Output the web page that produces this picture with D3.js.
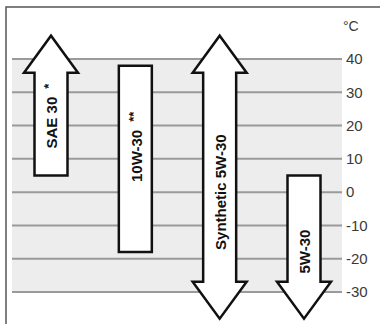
<!DOCTYPE html>
<html>
<head>
<meta charset="utf-8">
<script src="https://cdn.jsdelivr.net/npm/d3@7"></script>
<style>
  body { margin: 0; background: #fff; }
  svg { display: block; font-family: "Liberation Sans", Arial, sans-serif; }
</style>
</head>
<body>
<script>

// oil grades and their temperature ranges (°C); open ends get an arrow head
var grades   = ["SAE 30", "10W-30", "Synthetic 5W-30", "5W-30"]
var marks    = ["*", "**", "", ""]
var lows     = [5, -18, -38, -38]
var highs    = [47, 38, 47, 5]
var openLow  = [false, false, true, true]
var openHigh = [true, false, true, false]
var ticks    = [40, 30, 20, 10, 0, -10, -20, -30]

var svg = d3.select("body").append("svg")
  .attr('width', 380)
  .attr('height', 324)

var y = d3.scaleLinear().domain([-30, 40]).range([292, 59])
var x = d3.scalePoint().domain(grades).range([51, 304])

// frame (left + top only)
svg.append("path")
  .attr('d', "M6,324V7H380")
  .attr('fill', 'none')
  .attr('stroke', '#555')
  .attr('stroke-width', 1.5)

// grey band + grid
svg.append("rect")
  .attr('x', 12)
  .attr('y', y(40))
  .attr('width', 330)
  .attr('height', y(-30) - y(40))
  .attr('fill', '#ededed')

svg.selectAll("line.grid")
  .data(ticks)
  .enter().append("line")
  .attr('class', 'grid')
  .attr('x1', 12)
  .attr('x2', 342)
  .attr('y1', function(d) { return y(d) })
  .attr('y2', function(d) { return y(d) })
  .attr('stroke', '#9a9a9a')
  .attr('stroke-width', 2)

// plain hyphen for negatives, like the original print
var axis = d3.axisRight(y).tickValues(ticks).tickSize(0).tickPadding(0)
  .tickFormat(function(d) { return String(d) })
var ag = svg.append("g")
  .attr('transform', 'translate(346,0)')
  .call(axis)
ag.select(".domain").remove()
ag.selectAll("text")
  .attr('font-size', 15)
  .attr('font-family', '"Liberation Sans", Arial, sans-serif')
  .attr('fill', '#3a3a3a')

svg.append("text")
  .attr('x', 343)
  .attr('y', 31)
  .attr('font-size', 14)
  .attr('fill', '#3a3a3a')
  .text("°C")

// arrows / bars
var shaft = 16.5, head = 27, headLen = 37

function arrowPath(i) {
  var cx = x(grades[i])
  var top = y(highs[i]), bot = y(lows[i])
  var p = ""
  if (openHigh[i]) {
    p += "M" + (cx - shaft) + "," + (top + headLen)
    p += "H" + (cx - head) + "L" + cx + "," + top
    p += "L" + (cx + head) + "," + (top + headLen) + "H" + (cx + shaft)
  } else {
    p += "M" + (cx - shaft) + "," + top + "H" + (cx + shaft)
  }
  if (openLow[i]) {
    p += "V" + (bot - headLen) + "H" + (cx + head) + "L" + cx + "," + bot
    p += "L" + (cx - head) + "," + (bot - headLen) + "H" + (cx - shaft)
  } else {
    p += "V" + bot + "H" + (cx - shaft)
  }
  return p + "Z"
}

svg.selectAll("path.arrow")
  .data(d3.range(grades.length))
  .enter().append("path")
  .attr('class', 'arrow')
  .attr('d', arrowPath)
  .attr('fill', '#fff')
  .attr('stroke', '#111')
  .attr('stroke-width', 2.5)
  .attr('stroke-linejoin', 'miter')

// labels, rotated to read bottom-to-top
var labelShift = [-8, -12, 15, 23]

function labelY(i) {
  var top = y(highs[i]) + (openHigh[i] ? headLen : 0)
  var bot = y(lows[i]) - (openLow[i] ? headLen : 0)
  return (top + bot) / 2 + labelShift[i]
}

var labels = svg.selectAll("text.grade")
  .data(d3.range(grades.length))
  .enter().append("text")
  .attr('class', 'grade')
  .attr('transform', function(i) {
    return "translate(" + (x(grades[i]) + 1) + "," + labelY(i) + ") rotate(-90)"
  })
  .attr('text-anchor', 'middle')
  .attr('dy', '0.36em')
  .attr('font-size', 15)
  .attr('font-weight', 'bold')
  .attr('fill', '#111')

labels.append("tspan").text(function(i) { return grades[i] })
labels.filter(function(i) { return marks[i] }).append("tspan")
  .attr('dx', 8)
  .attr('dy', -4)
  .attr('font-size', 13)
  .text(function(i) { return marks[i] })

</script>
</body>
</html>
